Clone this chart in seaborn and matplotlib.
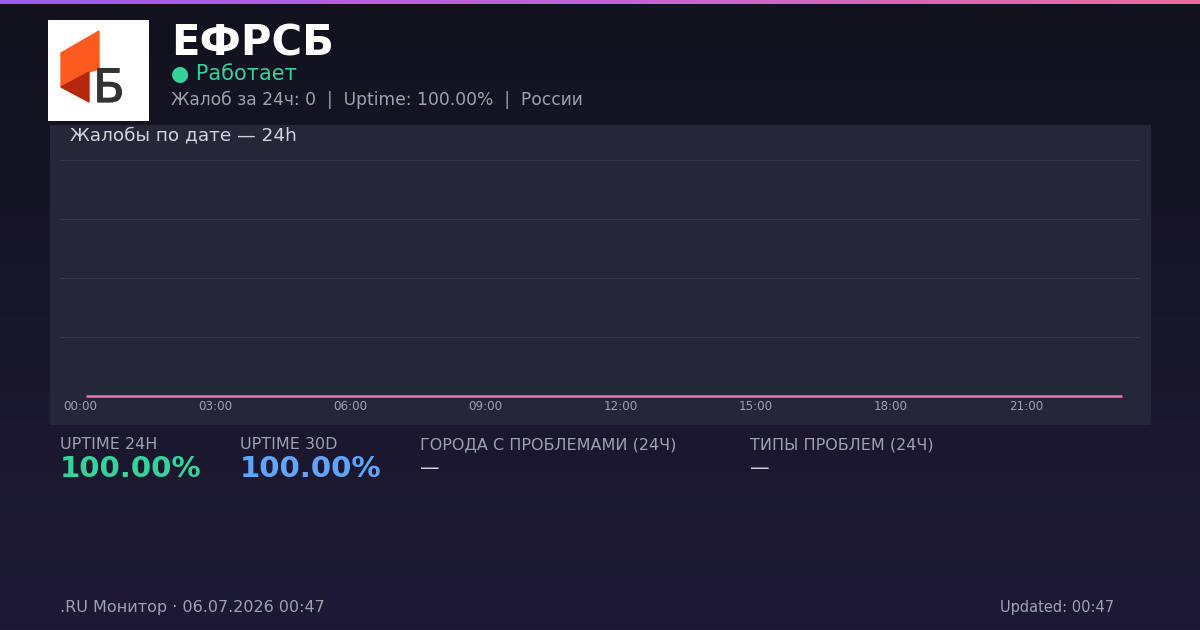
import numpy as np
import pandas as pd
import seaborn as sns
import matplotlib.pyplot as plt
import matplotlib.patheffects as pe
from matplotlib.patches import Polygon, Rectangle
from matplotlib.colors import LinearSegmentedColormap

# data
service_name = "ЕФРСБ"
status_text = "Работает"
complaints_24h = 0
uptime_24h = 100.00
uptime_30d = 100.00
region = "России"
hours = list(range(24))
hour_labels = [f"{h:02d}:00" for h in hours]
complaints = [0] * 24
updated = "00:47"
report_date = "06.07.2026 00:47"

W, H = 1200, 630
sns.set_theme(style="dark")
plt.rcParams["font.family"] = "sans-serif"
plt.rcParams["font.sans-serif"] = ["DejaVu Sans"]

fig = plt.figure(figsize=(W / 100, H / 100), dpi=100)


def box(x, y, w, h):
    return [x / W, 1 - (y + h) / H, w / W, h / H]


def text(x, y, s, **kw):
    fig.text(x / W, 1 - y / H, s, va="baseline", **kw)


# background gradient
bg = fig.add_axes([0, 0, 1, 1])
bg_cmap = LinearSegmentedColormap.from_list("bg", ["#12121e", "#1e1a36"])
bg.imshow(np.linspace(0, 1, 256).reshape(-1, 1), aspect="auto", cmap=bg_cmap,
          extent=[0, 1, 0, 1], origin="upper")
bg.set_xlim(0, 1)
bg.set_ylim(0, 1)
bg.axis("off")

# top bar
bar = fig.add_axes(box(0, 0, W, 4))
bar_cmap = LinearSegmentedColormap.from_list("bar", ["#9b5cf0", "#c563d6", "#ec6a9a"])
bar.imshow(np.linspace(0, 1, 256).reshape(1, -1), aspect="auto", cmap=bar_cmap)
bar.axis("off")

# logo
logo = fig.add_axes(box(48, 20, 101, 101))
logo.set_xlim(48, 149)
logo.set_ylim(121, 20)
logo.axis("off")
logo.add_patch(Rectangle((48, 20), 101, 101, color="white"))
logo.add_patch(Polygon([(61, 53), (99, 31), (99, 69), (89, 72), (61, 87)], color="#fb5a1f"))
logo.add_patch(Polygon([(61, 87), (89, 72), (89, 102)], color="#b3280d"))
logo.text(109, 102, "Б", fontsize=33, color="#333333", ha="center", va="baseline",
          path_effects=[pe.withStroke(linewidth=0.9, foreground="#333333")])

# header
text(171, 55, service_name, fontsize=30, fontweight="bold", color="white")
text(171, 80, "● " + status_text, fontsize=15, color="#34d399")
text(171, 105, f"Жалоб за 24ч: {complaints_24h}  |  Uptime: {uptime_24h:.2f}%  |  {region}",
     fontsize=12.3, color="#9ca3af")

# chart panel
panel = fig.add_axes(box(50, 125, 1101, 300))
panel.set_facecolor("#252638")
panel.set_xticks([])
panel.set_yticks([])
for s in panel.spines.values():
    s.set_visible(False)
text(70, 140, "Жалобы по дате — 24h", fontsize=13.3, color="#d1d5db")

ax = fig.add_axes(box(60, 160, 1080, 236))
ax.set_facecolor("none")
df = pd.DataFrame({"hour": hours, "complaints": complaints})
sns.lineplot(data=df, x="hour", y="complaints", ax=ax, color="#f472b6",
             linewidth=1.8, zorder=5, clip_on=False, solid_capstyle="butt")
ax.set_xlim(-0.58, 23.4)
ax.set_ylim(0, 4)
ax.set_yticks([0, 1, 2, 3, 4])
ax.set_yticklabels([])
ax.set_xticks([h - 0.13 for h in hours[::3]])
ax.set_xticklabels(hour_labels[::3], fontsize=8.6, color="#9ca3af")
ax.tick_params(axis="both", length=0, pad=3)
ax.grid(axis="y", color="#34364a", linewidth=0.8, zorder=0)
ax.grid(axis="x", visible=False)
ax.set_axisbelow(True)
ax.set_xlabel("")
ax.set_ylabel("")
for s in ax.spines.values():
    s.set_visible(False)

# stats
text(60, 449, "UPTIME 24H", fontsize=11.5, color="#9ca3af")
text(60, 477, f"{uptime_24h:.2f}%", fontsize=21, fontweight="bold", color="#34d399")
text(240, 449, "UPTIME 30D", fontsize=11.5, color="#9ca3af")
text(240, 477, f"{uptime_30d:.2f}%", fontsize=21, fontweight="bold", color="#60a5fa")
text(420, 449, "ГОРОДА С ПРОБЛЕМАМИ (24Ч)", fontsize=11.5, color="#9ca3af")
text(420, 474, "—", fontsize=14, color="#d1d5db")
text(750, 449, "ТИПЫ ПРОБЛЕМ (24Ч)", fontsize=11.5, color="#9ca3af")
text(750, 474, "—", fontsize=14, color="#d1d5db")

# footer
text(60, 612, f".RU Монитор · {report_date}", fontsize=11.5, color="#9ca3af")
fig.text(1114 / W, 1 - 612 / H, f"Updated: {updated}", ha="right", va="baseline",
         fontsize=10.5, color="#9ca3af")

fig.savefig("out.png", dpi=100)
